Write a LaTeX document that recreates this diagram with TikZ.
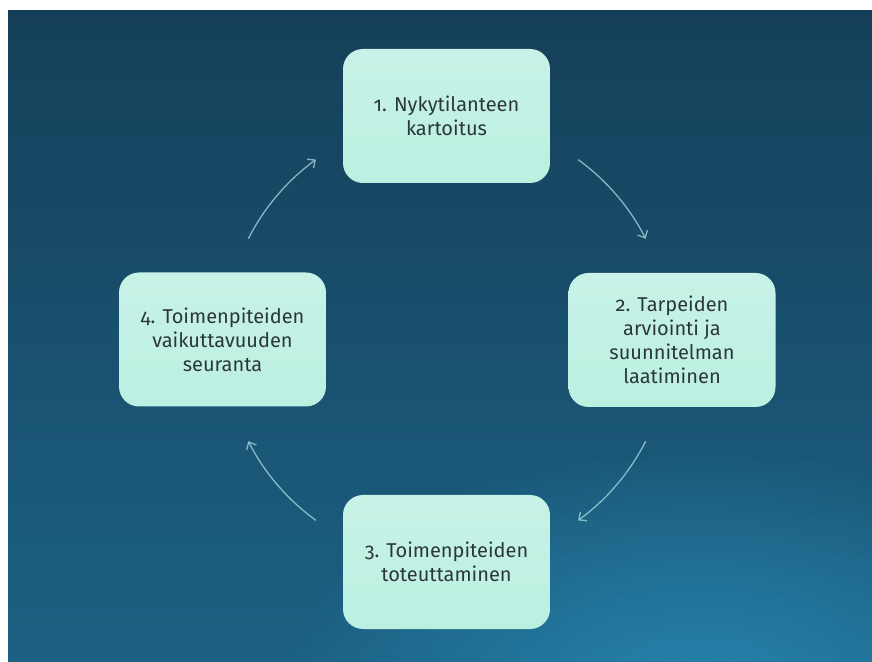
\documentclass[tikz,border=0pt]{standalone}
\usepackage{fontspec}
\setmainfont{Fira Sans}[Numbers=OldStyle]
\usetikzlibrary{arrows.meta,calc,fadings}
\definecolor{bgtop}{HTML}{153F58}
\definecolor{bgbot}{HTML}{1C6184}
\definecolor{bgglow}{HTML}{2A8DB8}
\definecolor{boxtop}{HTML}{C8F2E7}
\definecolor{boxbot}{HTML}{BBF0E1}
\definecolor{txt}{HTML}{2C3838}
\definecolor{arrcol}{HTML}{A3D3DA}
\tikzfading[name=glowfade, inner color=transparent!0, outer color=transparent!100]
\tikzset{
  stepbox/.style={rounded corners=20pt, minimum width=207pt, minimum height=134pt,
    top color=boxtop, bottom color=boxbot, draw=none, align=center,
    text=txt, font=\fontsize{20pt}{24pt}\selectfont, inner sep=0pt},
  cyclearrow/.style={draw=arrcol, line width=1.3pt, draw opacity=0.8,
    -{Straight Barb[length=6pt,width=11pt,line width=1.3pt]}}
}
\begin{document}
\begin{tikzpicture}[x=1pt,y=1pt]
\useasboundingbox (0,0) rectangle (872,661);
\fill[white] (0,0) rectangle (872,661);
\shade[top color=bgtop, bottom color=bgbot] (8,0) rectangle (872,650);
\begin{scope}
\clip (8,0) rectangle (872,650);
\fill[bgglow, path fading=glowfade, fill opacity=0.8] (700,-40) ellipse [x radius=420, y radius=260];
\end{scope}
\node[stepbox] (n1) at (446.5,545) {1. Nykytilanteen\\kartoitus};
\node[stepbox] (n2) at (672,321) {2. Tarpeiden\\arviointi ja\\suunnitelman\\laatiminen};
\node[stepbox] (n3) at (446.5,99) {3. Toimenpiteiden\\toteuttaminen};
\node[stepbox] (n4) at (222.5,321.5) {4. Toimenpiteiden\\vaikuttavuuden\\seuranta};
\coordinate (c) at (447,321);
\coordinate (a1) at ($(c)+(54:223)$);
\coordinate (a2) at ($(c)+(-27:223)$);
\coordinate (a3) at ($(c)+(-126:223)$);
\coordinate (a4) at ($(c)+(153:223)$);
\draw[cyclearrow] (a1) arc[start angle=54, end angle=27, radius=223];
\draw[cyclearrow] (a2) arc[start angle=-27, end angle=-54, radius=223];
\draw[cyclearrow] (a3) arc[start angle=-126, end angle=-153, radius=223];
\draw[cyclearrow] (a4) arc[start angle=153, end angle=126, radius=223];
\end{tikzpicture}
\end{document}
